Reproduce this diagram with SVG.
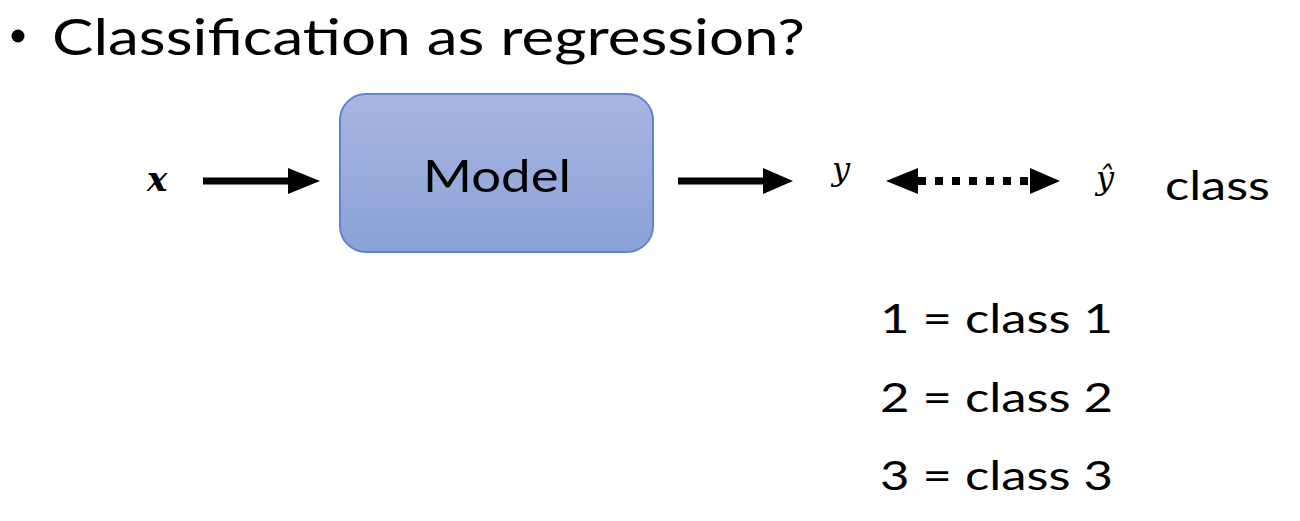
<svg xmlns="http://www.w3.org/2000/svg" width="1300" height="521" viewBox="0 0 1300 521">
<style>
.t{font-family:Lato,"Open Sans","Liberation Sans",sans-serif;fill:#000}
.m{font-family:"DejaVu Serif","Liberation Serif",serif;font-style:italic;fill:#000}
.ln{stroke:#000;stroke-width:7;fill:none}
.dot{stroke:#000;stroke-width:8;stroke-dasharray:8 9;fill:none}
</style>
<defs>
<linearGradient id="g" x1="0" y1="0" x2="0" y2="1">
<stop offset="0" stop-color="#a8b6e0"/>
<stop offset="1" stop-color="#8aa2d8"/>
</linearGradient>
</defs>
<rect width="1300" height="521" fill="#fff"/>
<g id="title">
<circle cx="18" cy="36" r="6.5" fill="#000"/>
<text class="t" x="52" y="55" font-size="50" textLength="753" lengthAdjust="spacingAndGlyphs">Classification as regression?</text>
</g>
<g id="input"><text class="m" x="147" y="191" font-size="34" font-weight="bold">x</text></g>
<g id="model">
<rect x="340" y="94" width="313" height="158" rx="26" fill="url(#g)" stroke="#5f83d3" stroke-width="2"/>
<text class="t" x="497" y="192" font-size="44" text-anchor="middle" textLength="148" lengthAdjust="spacingAndGlyphs">Model</text>
</g>
<g id="output"><text class="m" x="832" y="180" font-size="32">y</text></g>
<g id="target"><text class="m" x="1096" y="189" font-size="32">ŷ</text></g>
<g id="classlabel"><text class="t" x="1165" y="200" font-size="40" textLength="105" lengthAdjust="spacingAndGlyphs">class</text></g>
<g id="legend">
<text class="t" x="880" y="333" font-size="40" textLength="233" lengthAdjust="spacingAndGlyphs">1 = class 1</text>
<text class="t" x="880" y="412" font-size="40" textLength="233" lengthAdjust="spacingAndGlyphs">2 = class 2</text>
<text class="t" x="880" y="490" font-size="40" textLength="233" lengthAdjust="spacingAndGlyphs">3 = class 3</text>
</g>
<g id="connectors">
<line class="ln" x1="203" y1="181" x2="292" y2="181"/>
<polygon points="288,168 320,181 288,194"/>
<line class="ln" x1="678" y1="181" x2="767" y2="181"/>
<polygon points="763,168 793,181 763,194"/>
<polygon points="886,181 918,168 918,194"/>
<polygon points="1060,181 1030,168 1030,194"/>
<line class="dot" x1="918" y1="181" x2="1032" y2="181"/>
</g>
</svg>
